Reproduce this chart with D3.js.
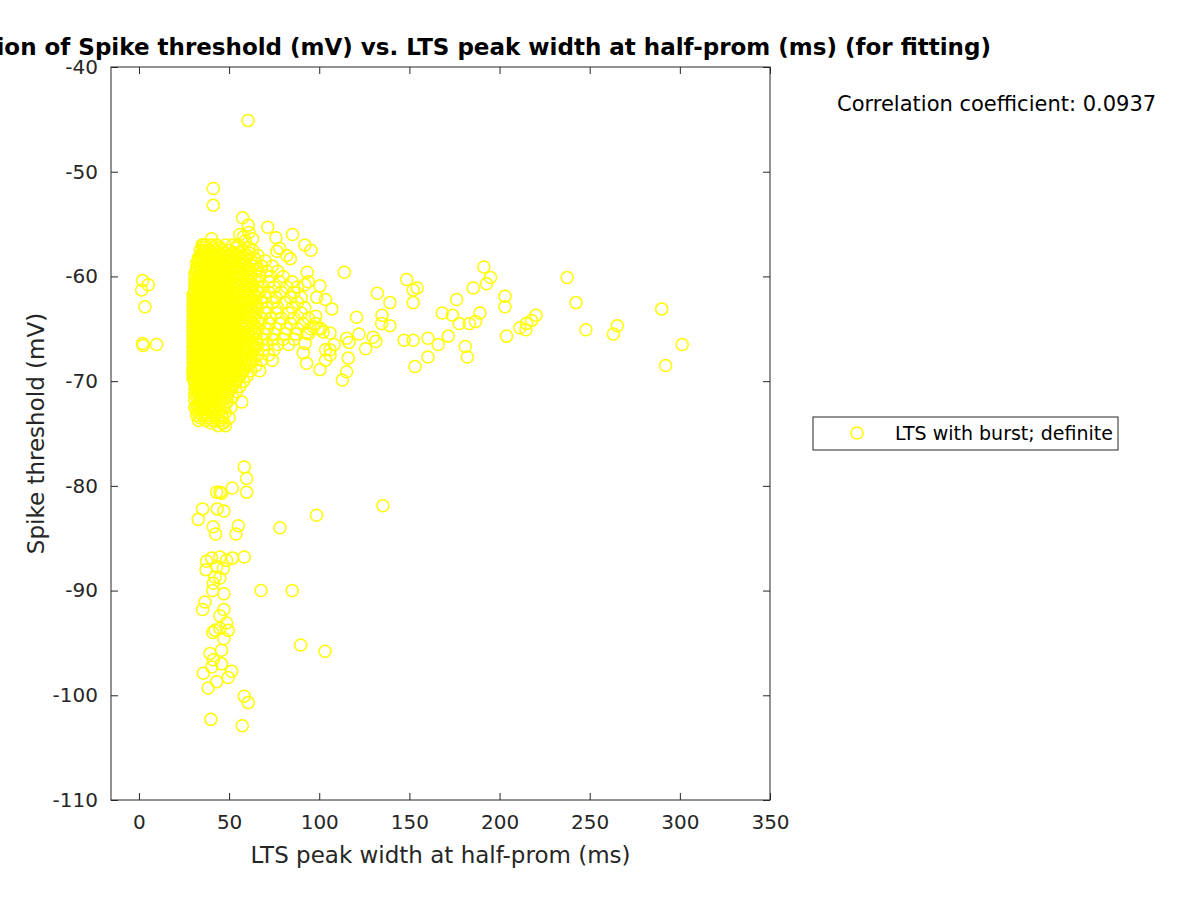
<!DOCTYPE html>
<html><head><meta charset="utf-8">
<script src="https://cdn.jsdelivr.net/npm/d3@7"></script>
<style>body{margin:0;background:#fff} text{font-family:"DejaVu Sans",sans-serif}</style>
</head><body><svg id="c" width="1200" height="900"></svg>
<script>
const titleText = "Correlation of Spike threshold (mV) vs. LTS peak width at half-prom (ms) (for fitting)";
const xLabel = "LTS peak width at half-prom (ms)";
const yLabel = "Spike threshold (mV)";
const corrText = "Correlation coefficient: 0.0937";
const seriesName = "LTS with burst; definite";
const xTicks = [0, 50, 100, 150, 200, 250, 300, 350];
const yTicks = [-110, -100, -90, -80, -70, -60, -50, -40];

// scattered points [width (ms), threshold (mV)]
const upperPoints = [
  [60.5,-45.1],[41.2,-51.6],[41.2,-53.2],[57.5,-54.4],[71.4,-55.3],[60.6,-55.1],
  [56,-56.0],[58,-56.2],[61,-55.8],[63,-56.4],[59,-56.6],[40.3,-56.4],[76,-56.3],
  [78,-57.3],[76.5,-57.6],[85.2,-56.0],[92,-57.0],[95.4,-57.5],[82,-58.0],[84,-58.3],
  [93.3,-59.6],[35.7,-57.0],[36,-57.7]
];
const leftPoints = [[2,-60.4],[5.2,-60.8],[1.5,-61.3],[3.3,-62.9],[2,-66.4],[2.4,-66.6],[9.8,-66.5]];
const rightPoints = [
  [113.9,-59.6],[148.5,-60.3],[191.3,-59.1],[195.0,-60.1],[192.8,-60.7],[185.4,-61.1],
  [152.1,-61.3],[154.3,-61.1],[176.2,-62.2],[132.2,-61.6],[139.2,-62.5],[152.1,-62.5],
  [203,-61.9],[203,-62.9],[237.5,-60.1],[242.4,-62.5],[289.9,-63.1],[301.3,-66.5],
  [292.1,-68.5],[247.9,-65.1],[265.3,-64.7],[263.1,-65.5],[220.2,-63.7],[217.8,-64.2],
  [215.0,-64.5],[211.3,-64.9],[214.6,-65.1],[203.9,-65.7],[189.1,-63.5],[186.7,-64.3],
  [183.2,-64.5],[177.6,-64.5],[173.9,-63.7],[168.2,-63.5],[171.6,-65.7],[181,-66.7],
  [182.1,-67.7],[166.0,-66.5],[160.3,-65.9],[160.3,-67.7],[153.1,-68.6],[152.1,-66.1],
  [147.1,-66.1],[134.8,-63.7],[134.6,-64.5],[139.2,-64.7],[131.4,-66.2],[129.9,-65.8],
  [125.7,-66.9],[122.0,-65.5],[120.7,-63.9],[116.5,-66.3],[115.2,-65.9],[116.1,-67.8],
  [115.2,-69.1],[112.8,-69.9],[108.3,-66.5],[106,-67.0],[106,-67.5],[103.5,-67.0],
  [103.5,-68.0],[100.4,-68.9],[107.0,-63.1],[100.4,-60.9],[103.5,-62.2],[98.6,-62.0],
  [92.1,-60.8],[93.9,-60.5],[98,-63.8],[96.7,-64.8],[99.4,-65],[102.2,-65.3],[106,-65.4],
  [93,-65.4],[92.1,-66.4],[93,-68.3],[91.1,-67.3]
];
const lowerPoints = [
  [58.4,-78.2],[59.7,-79.3],[59.7,-80.6],[51.8,-80.2],[43.1,-80.6],[45.8,-80.7],[44.9,-80.6],
  [35.3,-82.2],[32.9,-83.2],[43.4,-82.2],[47.1,-82.4],[41.2,-83.9],[42.5,-84.6],[55.1,-83.8],
  [53.8,-84.6],[78.2,-84.0],[98.5,-82.8],[135.3,-81.9],[58.4,-86.8],[37.5,-87.2],[40.3,-86.9],
  [44.9,-86.8],[48.6,-87.1],[51.9,-86.9],[37.2,-88.0],[43.1,-87.7],[46.8,-87.9],[42.2,-88.7],
  [44.9,-88.8],[41.2,-89.3],[40.9,-90.0],[47.1,-90.3],[67.7,-90.0],[85.0,-90.0],[36.6,-91.1],
  [35.3,-91.8],[47.1,-91.8],[44.9,-92.4],[42.2,-93.8],[44.9,-93.6],[48.6,-93.1],[49.5,-93.8],
  [47.1,-94.6],[40.9,-94.0],[89.7,-95.2],[103.2,-95.8],[45.8,-95.7],[39.4,-96.0],[41.2,-96.6],
  [40.3,-97.3],[35.7,-97.9],[38.4,-99.3],[43.1,-98.7],[49.5,-98.3],[51.4,-97.7],[45.8,-97.0],
  [58.4,-100.1],[60.6,-100.7],[39.9,-102.3],[57.3,-102.9]
];
// dense cluster, listed row by row: [threshold, [widths...]]
const clusterRows = [
  [-57.0,[35,37,40,43,48,52,55]],
  [-57.25,[36,41,45,54,61]],
  [-57.5,[34,36,39,42,46,50,58,63]],
  [-57.75,[35,38,41,44,48,53,56,61]],
  [-58.0,[34,37,40,43,47,51,55,60,66]],
  [-58.25,[33,35,38,41,44,48,52,56,59,64]],
  [-58.5,[33,36,39,42,45,49,53,57,62,70]],
  [-58.75,[32,34,37,40,43,46,50,55,59,65]],
  [-59.0,[33,35,38,41,44,47,50,54,58,63,68,74]],
  [-59.25,[32,34,36,39,42,45,48,52,56,61,66]],
  [-59.5,[32,35,37,40,43,46,49,52,56,60,65,71,77]],
  [-59.75,[31,33,36,38,41,44,47,50,54,57,62]],
  [-60.0,[32,34,37,39,42,45,48,51,54,58,62,67,73,80]],
  [-60.25,[31,33,35,38,40,43,46,49,52,56,60,64]],
  [-60.5,[32,34,36,39,41,44,47,50,53,57,61,66,72,78,85]],
  [-60.75,[31,33,35,37,40,42,45,48,51,54,58,63]],
  [-61.0,[32,34,36,38,41,43,46,49,52,55,59,63,68,75,82,88]],
  [-61.25,[31,33,35,37,39,42,44,47,50,53,57,61,65]],
  [-61.5,[31,33,36,38,40,43,45,48,51,54,58,62,67,72,79,86]],
  [-61.75,[30,32,34,37,39,41,44,46,49,52,56,60,64]],
  [-62.0,[31,33,35,38,40,42,45,47,50,53,57,61,65,70,76,84,90]],
  [-62.25,[30,32,34,36,39,41,43,46,48,51,55,59,63]],
  [-62.5,[31,33,35,37,40,42,44,47,49,52,55,59,63,68,74,81,88]],
  [-62.75,[30,32,34,36,38,41,43,45,48,50,53,57,60,64]],
  [-63.0,[31,33,35,37,39,42,44,46,49,51,54,58,62,66,71,77,85,92]],
  [-63.25,[30,32,34,36,38,40,43,45,47,50,52,56,59,63]],
  [-63.5,[31,33,35,37,39,41,44,46,48,51,54,57,61,65,70,76,83,90]],
  [-63.75,[30,32,34,36,38,40,42,45,47,49,52,55,59,63]],
  [-64.0,[31,33,35,37,39,41,43,46,48,50,53,56,60,64,68,73,79,86,94]],
  [-64.25,[30,32,34,36,38,40,42,44,47,49,52,54,58,62,66]],
  [-64.5,[31,33,35,37,39,41,43,45,48,50,53,56,59,63,67,72,78,84,91,98]],
  [-64.75,[30,32,34,36,38,40,42,44,46,49,51,54,57,60,64]],
  [-65.0,[31,33,35,37,39,41,43,45,47,50,52,55,58,62,66,71,76,82,88,95,101]],
  [-65.25,[30,32,34,36,38,40,42,44,46,48,51,53,56,60,64]],
  [-65.5,[31,33,35,37,39,41,43,45,47,49,52,55,58,61,65,70,75,81,87,94]],
  [-65.75,[30,32,34,36,38,40,42,44,46,48,50,53,56,59,63]],
  [-66.0,[31,33,35,37,39,41,43,45,47,49,52,54,57,61,65,69,74,80,86]],
  [-66.25,[30,32,34,36,38,40,42,44,46,48,51,53,56,59,63]],
  [-66.5,[31,33,35,37,39,41,43,45,47,50,52,55,58,62,66,71,77,83]],
  [-66.75,[30,32,34,36,38,40,42,44,46,48,51,54,57,60,64]],
  [-67.0,[31,33,35,37,39,41,43,45,48,50,53,56,60,64,69,75]],
  [-67.25,[30,32,34,36,38,40,42,44,47,49,52,55,58,62]],
  [-67.5,[31,33,35,37,39,41,43,46,48,51,54,57,61,66,72]],
  [-67.75,[30,32,34,36,38,40,42,45,47,50,53,56,59,64]],
  [-68.0,[31,33,35,37,39,41,44,46,49,52,55,59,63,68,74]],
  [-68.25,[30,32,34,36,38,40,43,45,48,50,54,57,61]],
  [-68.5,[31,33,35,37,39,42,44,47,50,53,56,60,65]],
  [-68.75,[30,32,34,36,38,41,43,46,49,52,55,58]],
  [-69.0,[30,31,33,35,37,40,42,45,48,51,54,58,62,67]],
  [-69.25,[30,32,34,36,39,41,44,47,50,53,57]],
  [-69.5,[30.5,31,33,35,38,40,43,46,49,52,56,60]],
  [-69.75,[30,32,34,37,39,42,45,48,51,55]],
  [-70.0,[31,33,36,38,41,44,47,50,54,58]],
  [-70.25,[31,33,35,37,40,43,46,49,53]],
  [-70.5,[32,34,36,39,42,45,48,52,56]],
  [-70.75,[31,33,35,38,41,44,47,51]],
  [-71.0,[32,34,37,40,43,46,50,54]],
  [-71.25,[31,33,36,39,42,45,49]],
  [-71.5,[32,35,38,41,44,48,52]],
  [-71.75,[31,34,37,40,43,47]],
  [-72.0,[33,35,38,42,45,49,57]],
  [-72.25,[32,34,37,40,44,48]],
  [-72.5,[31,33,36,39,43,47,51]],
  [-72.75,[32,35,38,41,45]],
  [-73.0,[33,36,40,44,48]],
  [-73.25,[32,35,38,42,46]],
  [-73.5,[34,38,42,46,50]],
  [-73.75,[33,37,41,45]],
  [-74.0,[40,46,47]],
  [-74.25,[44,48]]
];

const clusterPoints = clusterRows.flatMap(([yv, xs]) => xs.map(xv => [xv, yv]));
const allPoints = [...clusterPoints, ...upperPoints, ...leftPoints, ...rightPoints, ...lowerPoints];

const svg = d3.select("#c");
const L = 111, R = 770, T = 67, B = 800;
const x = d3.scaleLinear().domain([-15.5, 350]).range([L, R]);
const y = d3.scaleLinear().domain([-110, -40]).range([B, T]);
const axisColor = "#262626";

// points
svg.append("g").selectAll("circle").data(allPoints).join("circle")
  .attr("cx", d => x(d[0])).attr("cy", d => y(d[1])).attr("r", 6)
  .attr("fill", "none").attr("stroke", "#ffff00").attr("stroke-width", 1.5);

function styleAxis(g) {
  g.select(".domain").remove();
  g.selectAll(".tick line").attr("stroke", axisColor);
  g.selectAll("text").attr("fill", axisColor).attr("font-size", 20)
   .attr("font-family", '"DejaVu Sans", sans-serif');
}
svg.append("g").attr("transform", `translate(0,${B})`)
  .call(d3.axisBottom(x).tickValues(xTicks).tickSize(-7).tickPadding(15).tickFormat(d3.format("d")))
  .call(styleAxis);
svg.append("g").attr("transform", `translate(${L},0)`)
  .call(d3.axisLeft(y).tickValues(yTicks).tickSize(-7).tickPadding(13).tickFormat(d => d.toString()))
  .call(styleAxis);
svg.append("g").attr("transform", `translate(0,${T})`)
  .call(d3.axisTop(x).tickValues(xTicks).tickSize(-7).tickFormat(""))
  .call(styleAxis);
svg.append("g").attr("transform", `translate(${R},0)`)
  .call(d3.axisRight(y).tickValues(yTicks).tickSize(-7).tickFormat(""))
  .call(styleAxis);
svg.append("rect").attr("x", L).attr("y", T).attr("width", R - L).attr("height", B - T)
  .attr("fill", "none").attr("stroke", axisColor).attr("stroke-width", 1);

// labels
svg.append("text").attr("x", (L + R) / 2).attr("y", 863).attr("text-anchor", "middle")
  .attr("font-size", 23).attr("fill", axisColor).text(xLabel);
svg.append("text").attr("transform", `translate(44,${(T + B) / 2}) rotate(-90)`)
  .attr("text-anchor", "middle").attr("font-size", 23).attr("fill", axisColor).text(yLabel);
svg.append("text").attr("x", 441).attr("y", 55).attr("text-anchor", "middle")
  .attr("font-size", 23).attr("font-weight", "bold").attr("fill", "#000").text(titleText);
svg.append("text").attr("x", 837).attr("y", 111).attr("font-size", 21).attr("fill", "#000").text(corrText);

// legend
const lg = svg.append("g");
lg.append("rect").attr("x", 813).attr("y", 417).attr("width", 305).attr("height", 33)
  .attr("fill", "#fff").attr("stroke", axisColor).attr("stroke-width", 1);
lg.append("circle").attr("cx", 857).attr("cy", 433).attr("r", 6)
  .attr("fill", "none").attr("stroke", "#ffff00").attr("stroke-width", 1.5);
lg.append("text").attr("x", 895).attr("y", 440).attr("font-size", 19).attr("fill", "#000").text(seriesName);
</script></body></html>
